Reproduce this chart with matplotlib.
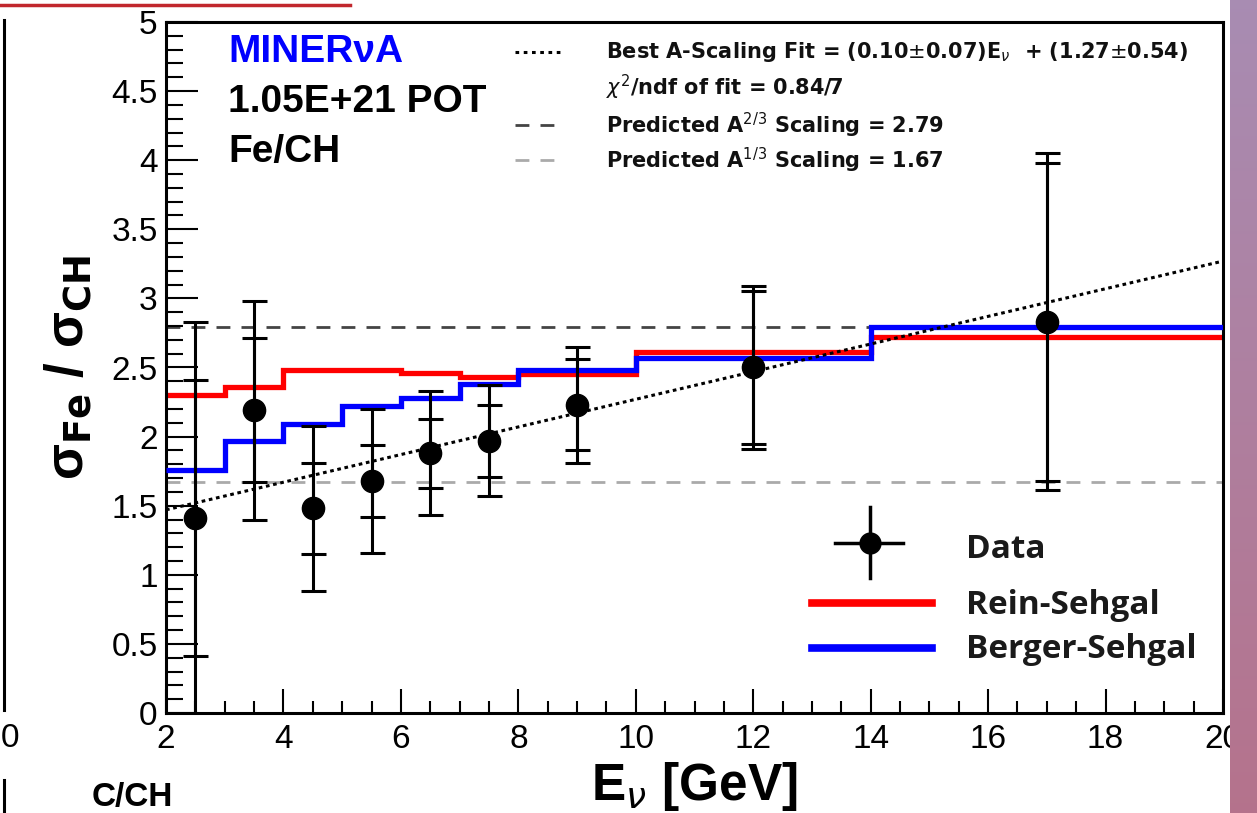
import numpy as np
import matplotlib.pyplot as plt
from matplotlib.ticker import MultipleLocator, FuncFormatter

# bin edges of the energy distribution [GeV]
bin_edges = [2, 3, 4, 5, 6, 7, 8, 10, 14, 20]

# model predictions per bin (Fe/CH ratio)
rein_sehgal = [2.30, 2.36, 2.48, 2.48, 2.46, 2.43, 2.45, 2.61, 2.72]
berger_sehgal = [1.76, 1.97, 2.09, 2.22, 2.28, 2.38, 2.48, 2.57, 2.79]

# measured ratio with inner (stat) and outer (total) uncertainties
data_x = [2.5, 3.5, 4.5, 5.5, 6.5, 7.5, 9.0, 12.0, 17.0]
data_y = [1.41, 2.19, 1.48, 1.68, 1.88, 1.97, 2.23, 2.50, 2.83]
err_inner = [1.00, 0.52, 0.33, 0.26, 0.25, 0.26, 0.33, 0.55, 1.15]
err_total = [1.42, 0.79, 0.60, 0.52, 0.45, 0.40, 0.42, 0.59, 1.22]

# fit and A-scaling predictions
fit_slope = 0.10
fit_offset = 1.27
scale_23 = 2.79
scale_13 = 1.67

W, H = 1257, 813
fig = plt.figure(figsize=(W / 100, H / 100), dpi=100)


def fx(px):
    return px / W


def fy(py):
    return 1 - py / H


ax = fig.add_axes([fx(166), fy(713), fx(1223 - 166), (713 - 22) / H])

# horizontal reference lines
ax.axhline(scale_23, color='#444444', lw=2, ls=(0, (5, 4)), zorder=1)
ax.axhline(scale_13, color='#aaaaaa', lw=2, ls=(0, (5, 4)), zorder=1)

# step histograms for the models
ax.stairs(rein_sehgal, bin_edges, baseline=None, color='#ff0000', lw=3.8, zorder=2)
ax.stairs(berger_sehgal, bin_edges, baseline=None, color='#0000ff', lw=3.8, zorder=3)

# linear fit
xf = np.array([2.0, 20.0])
ax.plot(xf, fit_slope * xf + fit_offset, color='black', lw=2.2,
        ls=(0, (1.2, 1.2)), zorder=4)

# data points
ax.errorbar(data_x, data_y, yerr=err_total, fmt='none', ecolor='black',
            elinewidth=2.2, capsize=9, capthick=2.2, zorder=5)
ax.errorbar(data_x, data_y, yerr=err_inner, fmt='o', color='black',
            ms=16, elinewidth=2.2, capsize=9, capthick=2.2, zorder=6)

ax.set_xlim(2, 20)
ax.set_ylim(0, 5)
ax.xaxis.set_major_locator(MultipleLocator(2))
ax.xaxis.set_minor_locator(MultipleLocator(0.5))
ax.yaxis.set_major_locator(MultipleLocator(0.5))
ax.yaxis.set_minor_locator(MultipleLocator(0.1))
ax.yaxis.set_major_formatter(FuncFormatter(lambda v, p: '%g' % v))
ax.tick_params(axis='both', which='both', direction='in', top=False,
               right=False, width=1.5, labelsize=24, colors='black')
ax.tick_params(axis='y', which='major', length=23, pad=6)
ax.tick_params(axis='y', which='minor', length=12)
ax.tick_params(axis='x', which='major', length=17, pad=8)
ax.tick_params(axis='x', which='minor', length=9)
for lab in ax.get_xticklabels() + ax.get_yticklabels():
    lab.set_fontfamily('Liberation Sans')
for s in ax.spines.values():
    s.set_linewidth(2.2)

# axis titles
fig.text(fx(694), fy(800), r'E$_{\nu}$ [GeV]', fontsize=37,
         fontweight='bold', family='Liberation Sans', ha='center', va='baseline')
fig.text(fx(68), fy(367), r'σ$_{\mathbf{Fe}}$ / σ$_{\mathbf{CH}}$',
         fontsize=38, fontweight='bold', family='Liberation Sans',
         rotation=90, ha='center', va='center')

# experiment labels
fig.text(fx(228), fy(52), 'MINERνA', color='#0000ff', fontsize=28,
         fontweight='bold', family='Liberation Sans', va='center')
fig.text(fx(228), fy(102), '1.05E+21 POT', fontsize=28, fontweight='bold',
         family='Liberation Sans', va='center')
fig.text(fx(228), fy(152), 'Fe/CH', fontsize=28, fontweight='bold',
         family='Liberation Sans', va='center')

# fit legend
leg_font = dict(fontsize=15, fontweight='bold', family='DejaVu Sans',
                va='center', color='#111111')
fig.text(fx(606), fy(52), r'Best A-Scaling Fit = (0.10$\pm$0.07)E$_{\nu}$  + (1.27$\pm$0.54)', **leg_font)
fig.text(fx(606), fy(87), r'$\chi^{2}$/ndf of fit = 0.84/7', **leg_font)
fig.text(fx(606), fy(125), r'Predicted A$^{2/3}$ Scaling = 2.79', **leg_font)
fig.text(fx(606), fy(160), r'Predicted A$^{1/3}$ Scaling = 1.67', **leg_font)
fig.add_artist(plt.Line2D([fx(515), fx(562)], [fy(52), fy(52)], color='black',
                          lw=2.2, ls=(0, (1.2, 1.5))))
fig.add_artist(plt.Line2D([fx(515), fx(562)], [fy(125), fy(125)],
                          color='#444444', lw=2, ls=(0, (5, 4))))
fig.add_artist(plt.Line2D([fx(515), fx(562)], [fy(160), fy(160)],
                          color='#aaaaaa', lw=2, ls=(0, (5, 4))))

# model legend
mfont = dict(fontsize=24, fontweight='bold', family='Open Sans', va='center',
             color='#1a1a1a')
fig.add_artist(plt.Line2D([fx(835), fx(903)], [fy(543), fy(543)], color='black', lw=2.5))
fig.add_artist(plt.Line2D([fx(870), fx(870)], [fy(507), fy(578)], color='black', lw=2.5))
fig.add_artist(plt.Line2D([fx(870)], [fy(543)], color='black', marker='o', ms=15))
fig.text(fx(966), fy(549), 'Data', **mfont)
fig.add_artist(plt.Line2D([fx(812), fx(932)], [fy(603), fy(603)], color='#ff0000', lw=5.5))
fig.text(fx(966), fy(605), 'Rein-Sehgal', **mfont)
fig.add_artist(plt.Line2D([fx(812), fx(932)], [fy(648), fy(648)], color='#0000ff', lw=5.5))
fig.text(fx(966), fy(649), 'Berger-Sehgal', **mfont)

# neighbouring panels at the edges
fig.add_artist(plt.Line2D([0, fx(350)], [fy(5), fy(5)], color='#c1272d', lw=2.5))
fig.add_artist(plt.Line2D([fx(4), fx(4)], [fy(20), fy(710)], color='black', lw=2.2))
fig.add_artist(plt.Line2D([fx(4), fx(4)], [fy(780), 0], color='black', lw=2.2))
fig.text(fx(1), fy(738), '0', fontsize=24, family='Liberation Sans', va='center')
fig.text(fx(92), fy(797), 'C/CH', fontsize=24, fontweight='bold',
         family='Liberation Sans', va='center')

band = fig.add_axes([fx(1230), 0, 1 - fx(1230), 1])
grad = np.linspace(0, 1, 256).reshape(-1, 1)
top = np.array([0.66, 0.55, 0.70])
bot = np.array([0.71, 0.45, 0.55])
band.imshow(top + grad[:, :, None] * (bot - top), aspect='auto')
band.axis('off')

fig.savefig('out.png', dpi=100)
